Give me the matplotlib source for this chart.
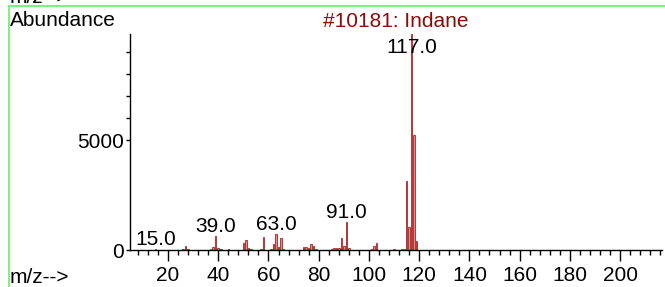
import matplotlib
matplotlib.use('Agg')
import matplotlib.pyplot as plt
from matplotlib.ticker import MultipleLocator, FixedLocator
from matplotlib.lines import Line2D
from matplotlib.transforms import blended_transform_factory

# ---- data ----
mz = [15, 26, 27, 28, 37, 38, 39, 40, 41, 44, 50, 51, 52, 53, 57, 58, 61, 62, 63, 64,
      65, 66, 74, 75, 76, 77, 78, 79, 85, 86, 87, 88, 89, 90, 91, 92, 101, 102, 103,
      110, 113, 114, 115, 116, 117, 118, 119]
abund = [30, 40, 190, 50, 60, 140, 630, 90, 60, 30, 340, 440, 80, 40, 40, 580, 40, 270, 710, 120,
         555, 60, 140, 140, 90, 260, 180, 40, 40, 90, 90, 90, 560, 180, 1270, 90, 40, 180, 320,
         30, 60, 40, 3150, 1030, 9820, 5250, 420]
labeled = [15, 39, 63, 91, 117]
title = "#10181: Indane"
xlabel = "m/z-->"
ylabel = "Abundance"
y_major = [0, 5000]
y_minor = [6000, 7000, 8000, 9000]

plt.rcParams['font.family'] = ['Liberation Sans', 'DejaVu Sans']
W, H = 665, 287
FS = 15
fig = plt.figure(figsize=(W / 100, H / 100), dpi=100)
ax = fig.add_axes([130 / W, 1 - 250 / H, (662 - 130) / W, (250 - 34) / H])

ax.bar(mz, abund, width=0.6, color='#d88c8c', edgecolor='#a00000', linewidth=0.5)
ax.set_xlim(4.86, 216.7)
ax.set_ylim(0, max(abund))

for s in ['top', 'right']:
    ax.spines[s].set_visible(False)
for s in ['left', 'bottom']:
    ax.spines[s].set_color('black')
    ax.spines[s].set_linewidth(1.0)

ax.xaxis.set_major_locator(MultipleLocator(20))
ax.xaxis.set_minor_locator(MultipleLocator(4))
ax.yaxis.set_major_locator(FixedLocator(y_major))
ax.yaxis.set_minor_locator(FixedLocator(y_minor))
ax.tick_params(axis='x', which='major', length=8, width=1, direction='out', labelsize=FS, pad=3.5)
ax.tick_params(axis='x', which='minor', length=3.6, width=1, direction='out')
ax.tick_params(axis='y', which='both', length=3, width=1, direction='out', labelsize=FS, pad=1.5)

ymax = max(abund)
trans = blended_transform_factory(ax.transData, ax.transAxes)
for m in labeled:
    v = abund[mz.index(m)]
    if v > 0.85 * ymax:
        ax.annotate(f"{m:.1f}", xy=(m, 1.0), xycoords=trans, xytext=(0, -3),
                    textcoords='offset points', ha='center', va='top', fontsize=FS)
    else:
        ax.annotate(f"{m:.1f}", xy=(m, v), xytext=(0, 3), textcoords='offset points',
                    ha='center', va='baseline', fontsize=FS)

fig.text(396 / W, 1 - 27 / H, title, ha='center', va='baseline', color='#8b0a0a', fontsize=FS)
fig.text(10 / W, 1 - 26 / H, ylabel, ha='left', va='baseline', fontsize=FS)
fig.text(10 / W, 1 - 283 / H, xlabel, ha='left', va='baseline', fontsize=FS)
fig.text(10 / W, 1 - 3 / H, xlabel, ha='left', va='baseline', fontsize=FS)

green = '#80f080'
fig.add_artist(Line2D([9 / W, 1.0], [1 - 6 / H, 1 - 6 / H], transform=fig.transFigure,
                      color=green, linewidth=1.5))
fig.add_artist(Line2D([9 / W, 9 / W], [0, 1 - 6 / H], transform=fig.transFigure,
                      color=green, linewidth=1.5))

fig.savefig('out.png', dpi=100)
